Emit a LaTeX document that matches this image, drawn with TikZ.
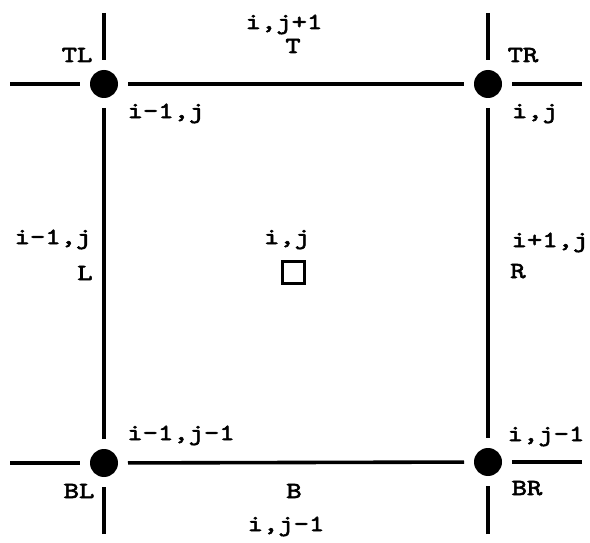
\documentclass[tikz,border=0pt]{standalone}
\usepackage{fontspec}
\setmonofont{lmmono10-regular.otf}[FakeStretch=1.27,FakeBold=2.6]
\usepackage{tikz}

\begin{document}
\begin{tikzpicture}[x=1pt,y=-1pt,
                    font=\ttfamily\fontsize{23}{23}\selectfont,
                    grid/.style={line width=3.6pt},
                    dot/.style={circle, fill=black, inner sep=0pt,
                                minimum size=28pt, outer sep=10pt},
                    lab/.style={inner sep=0pt, anchor=base}]

  \useasboundingbox (0,0) rectangle (590,543);

  % corner points of the cell
  \node[dot] (TL) at (104,84)  {};
  \node[dot] (TR) at (488,84)  {};
  \node[dot] (BL) at (104,463) {};
  \node[dot] (BR) at (488,462) {};

  % loose ends of the grid lines
  \coordinate (tlw) at (10,84);   \coordinate (tln) at (104,13);
  \coordinate (tre) at (582,84);  \coordinate (trn) at (488,13);
  \coordinate (blw) at (10,463);  \coordinate (bls) at (104,534);
  \coordinate (bre) at (582,462); \coordinate (brs) at (488,534);

  \draw[grid] (TL) -- (TR);
  \draw[grid] (BL) -- (BR);
  \draw[grid] (TL) -- (BL);
  \draw[grid] (TR) -- (BR);
  \draw[grid] (tlw) -- (TL);  \draw[grid] (tln) -- (TL);
  \draw[grid] (tre) -- (TR);  \draw[grid] (trn) -- (TR);
  \draw[grid] (blw) -- (BL);  \draw[grid] (bls) -- (BL);
  \draw[grid] (bre) -- (BR);  \draw[grid] (brs) -- (BR);

  % cell centre
  \node[draw, line width=3pt, inner sep=0pt, minimum size=22pt]
        (cell) at (293.5,272.5) {};

  % labels
  \node[lab] (topij)  at (284,29)  {i,j+1};
  \node[lab] (topT)   at (293,53)  {T};
  \node[lab] (tlname) at (77,62)   {TL};
  \node[lab] (trname) at (523,62)  {TR};
  \node[lab] (tlij)   at (166,118) {i-1,j};
  \node[lab] (trij)   at (535,118) {i,j};
  \node[lab] (leftij) at (53,244)  {i-1,j};
  \node[lab] (leftL)  at (85,280)  {L};
  \node[lab] (cellij) at (287,244) {i,j};
  \node[lab] (rghtij) at (550,247) {i+1,j};
  \node[lab] (rghtR)  at (518,278) {R};
  \node[lab] (blij)   at (181,440) {i-1,j-1};
  \node[lab] (brij)   at (546,441) {i,j-1};
  \node[lab] (blname) at (79,498)  {BL};
  \node[lab] (brname) at (527,495) {BR};
  \node[lab] (botB)   at (294,498) {B};
  \node[lab] (botij)  at (286,531) {i,j-1};
\end{tikzpicture}
\end{document}
